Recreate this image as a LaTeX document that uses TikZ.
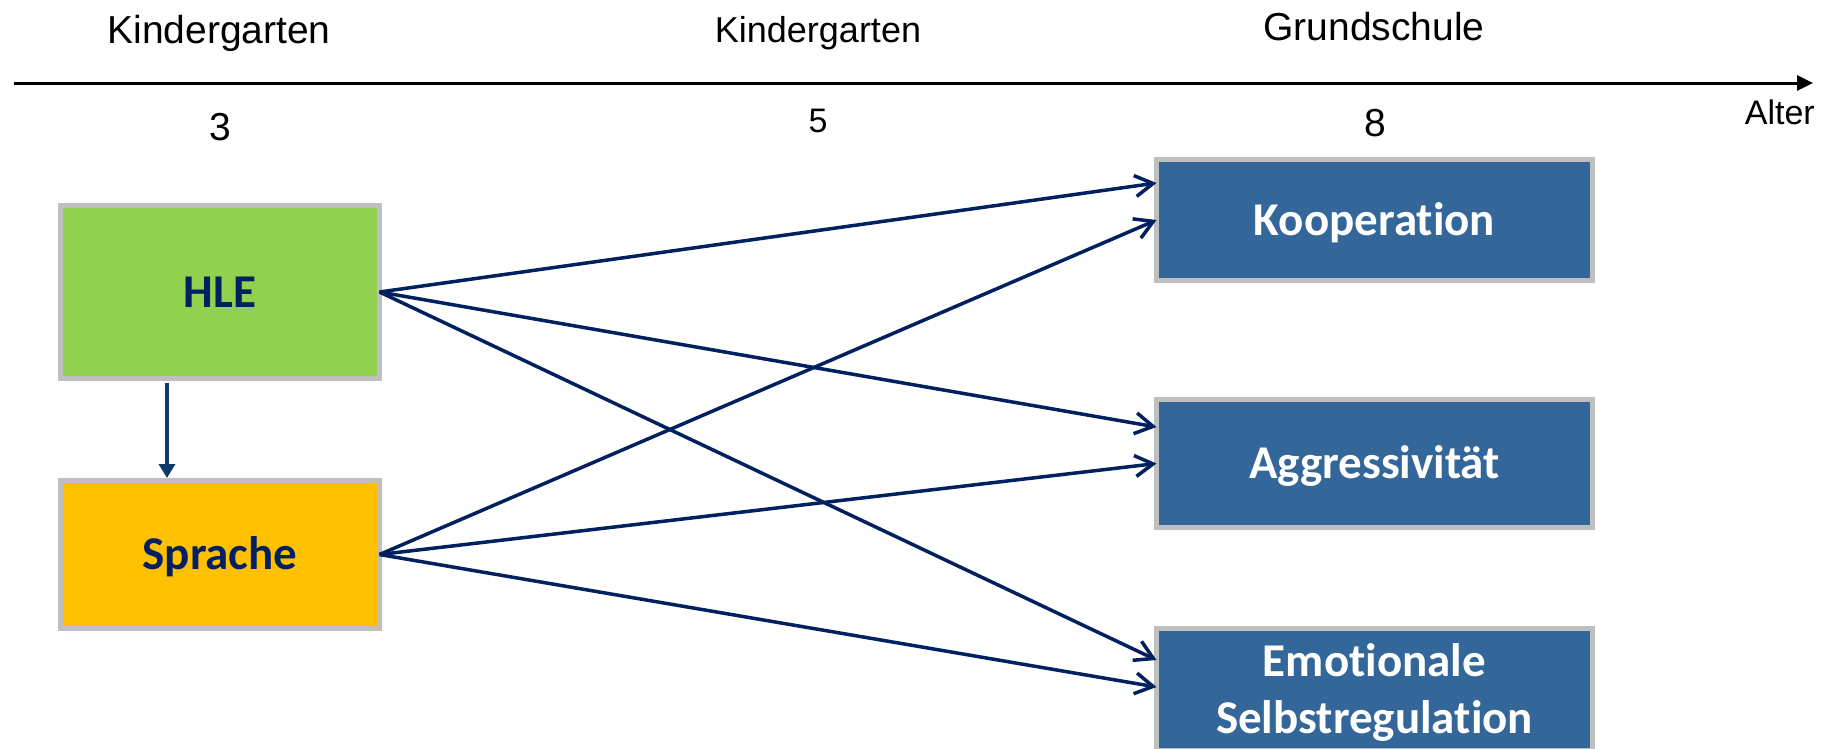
\documentclass[tikz,border=0pt]{standalone}
\usepackage{fontspec}
\newfontfamily\arialf{Liberation Sans}
\newfontfamily\calf[Ligatures=NoCommon]{Carlito}
\usetikzlibrary{arrows.meta}
\definecolor{navy}{HTML}{002060}
\definecolor{darkarrow}{HTML}{0D3A6B}
\definecolor{boxgray}{HTML}{BFBFBF}
\definecolor{hlegreen}{HTML}{92D050}
\definecolor{spraorange}{HTML}{FFC000}
\definecolor{outblue}{HTML}{336699}
\begin{document}
\begin{tikzpicture}[x=1pt,y=-1pt,
  box/.style={draw=boxgray, line width=5pt, inner sep=0pt, outer sep=0pt,
    font=\calf\bfseries\fontsize{47}{57}\selectfont, text height=30pt, text depth=0pt},
  inbox/.style={box, text=navy, minimum width=319pt},
  outbox/.style={box, fill=outblue, text=white, minimum width=436pt},
  lab/.style={inner sep=0pt, anchor=base, text=black},
  arial/.style={font=\arialf\fontsize{#1}{#1}\selectfont},
  conn/.style={draw=navy, line width=3.5pt, -{Straight Barb[length=18pt,width=21pt,line width=3.5pt]}}
]
\useasboundingbox (0,0) rectangle (1832,748);
\fill[white] (0,0) rectangle (1832,748);

% timeline
\coordinate (axs) at (14,83);
\coordinate (axe) at (1813,83);
\draw[line width=3pt, -{Triangle[length=16pt,width=15pt]}] (axs) -- (axe);

\node[lab, arial=39] (kg1) at (219,43) {Kindergarten};
\node[lab, arial=36] (kg2) at (818,42) {Kindergarten};
\node[lab, arial=39] (gs) at (1374,40) {Grundschule};
\node[lab, arial=39] (a3) at (220,140) {3};
\node[lab, arial=34] (a5) at (818,132) {5};
\node[lab, arial=39] (a8) at (1375,136) {8};
\node[lab, arial=34, anchor=base east] (alter) at (1815,124) {Alter};

% boxes
\node[inbox, fill=hlegreen, minimum height=173pt] (hle) at (220,292) {HLE};
\node[inbox, fill=spraorange, minimum height=148pt] (spr) at (220,554.5) {Sprache};
\node[outbox, minimum height=121pt] (koop) at (1374.5,220) {Kooperation};
\node[outbox, minimum height=128pt] (aggr) at (1374.5,463.5) {Aggressivität};
\node[outbox, minimum height=122pt, align=center, text height=87pt] (emo) at (1374.5,689.5) {Emotionale\\Selbstregulation};

% connectors
\draw[darkarrow, line width=3.5pt, -{Triangle[length=14pt,width=16pt]}]
  ([xshift=-53pt,yshift=-4.5pt]hle.south) -- ([xshift=-53pt,yshift=2.5pt]spr.north);
\draw[conn] (hle.east) -- ([yshift=37pt]koop.west);
\draw[conn] (hle.east) -- ([yshift=36.5pt]aggr.west);
\draw[conn] (hle.east) -- ([yshift=29.5pt]emo.west);
\draw[conn] (spr.east) -- (koop.west);
\draw[conn] (spr.east) -- (aggr.west);
\draw[conn] (spr.east) -- ([yshift=2.5pt]emo.west);
\end{tikzpicture}
\end{document}
